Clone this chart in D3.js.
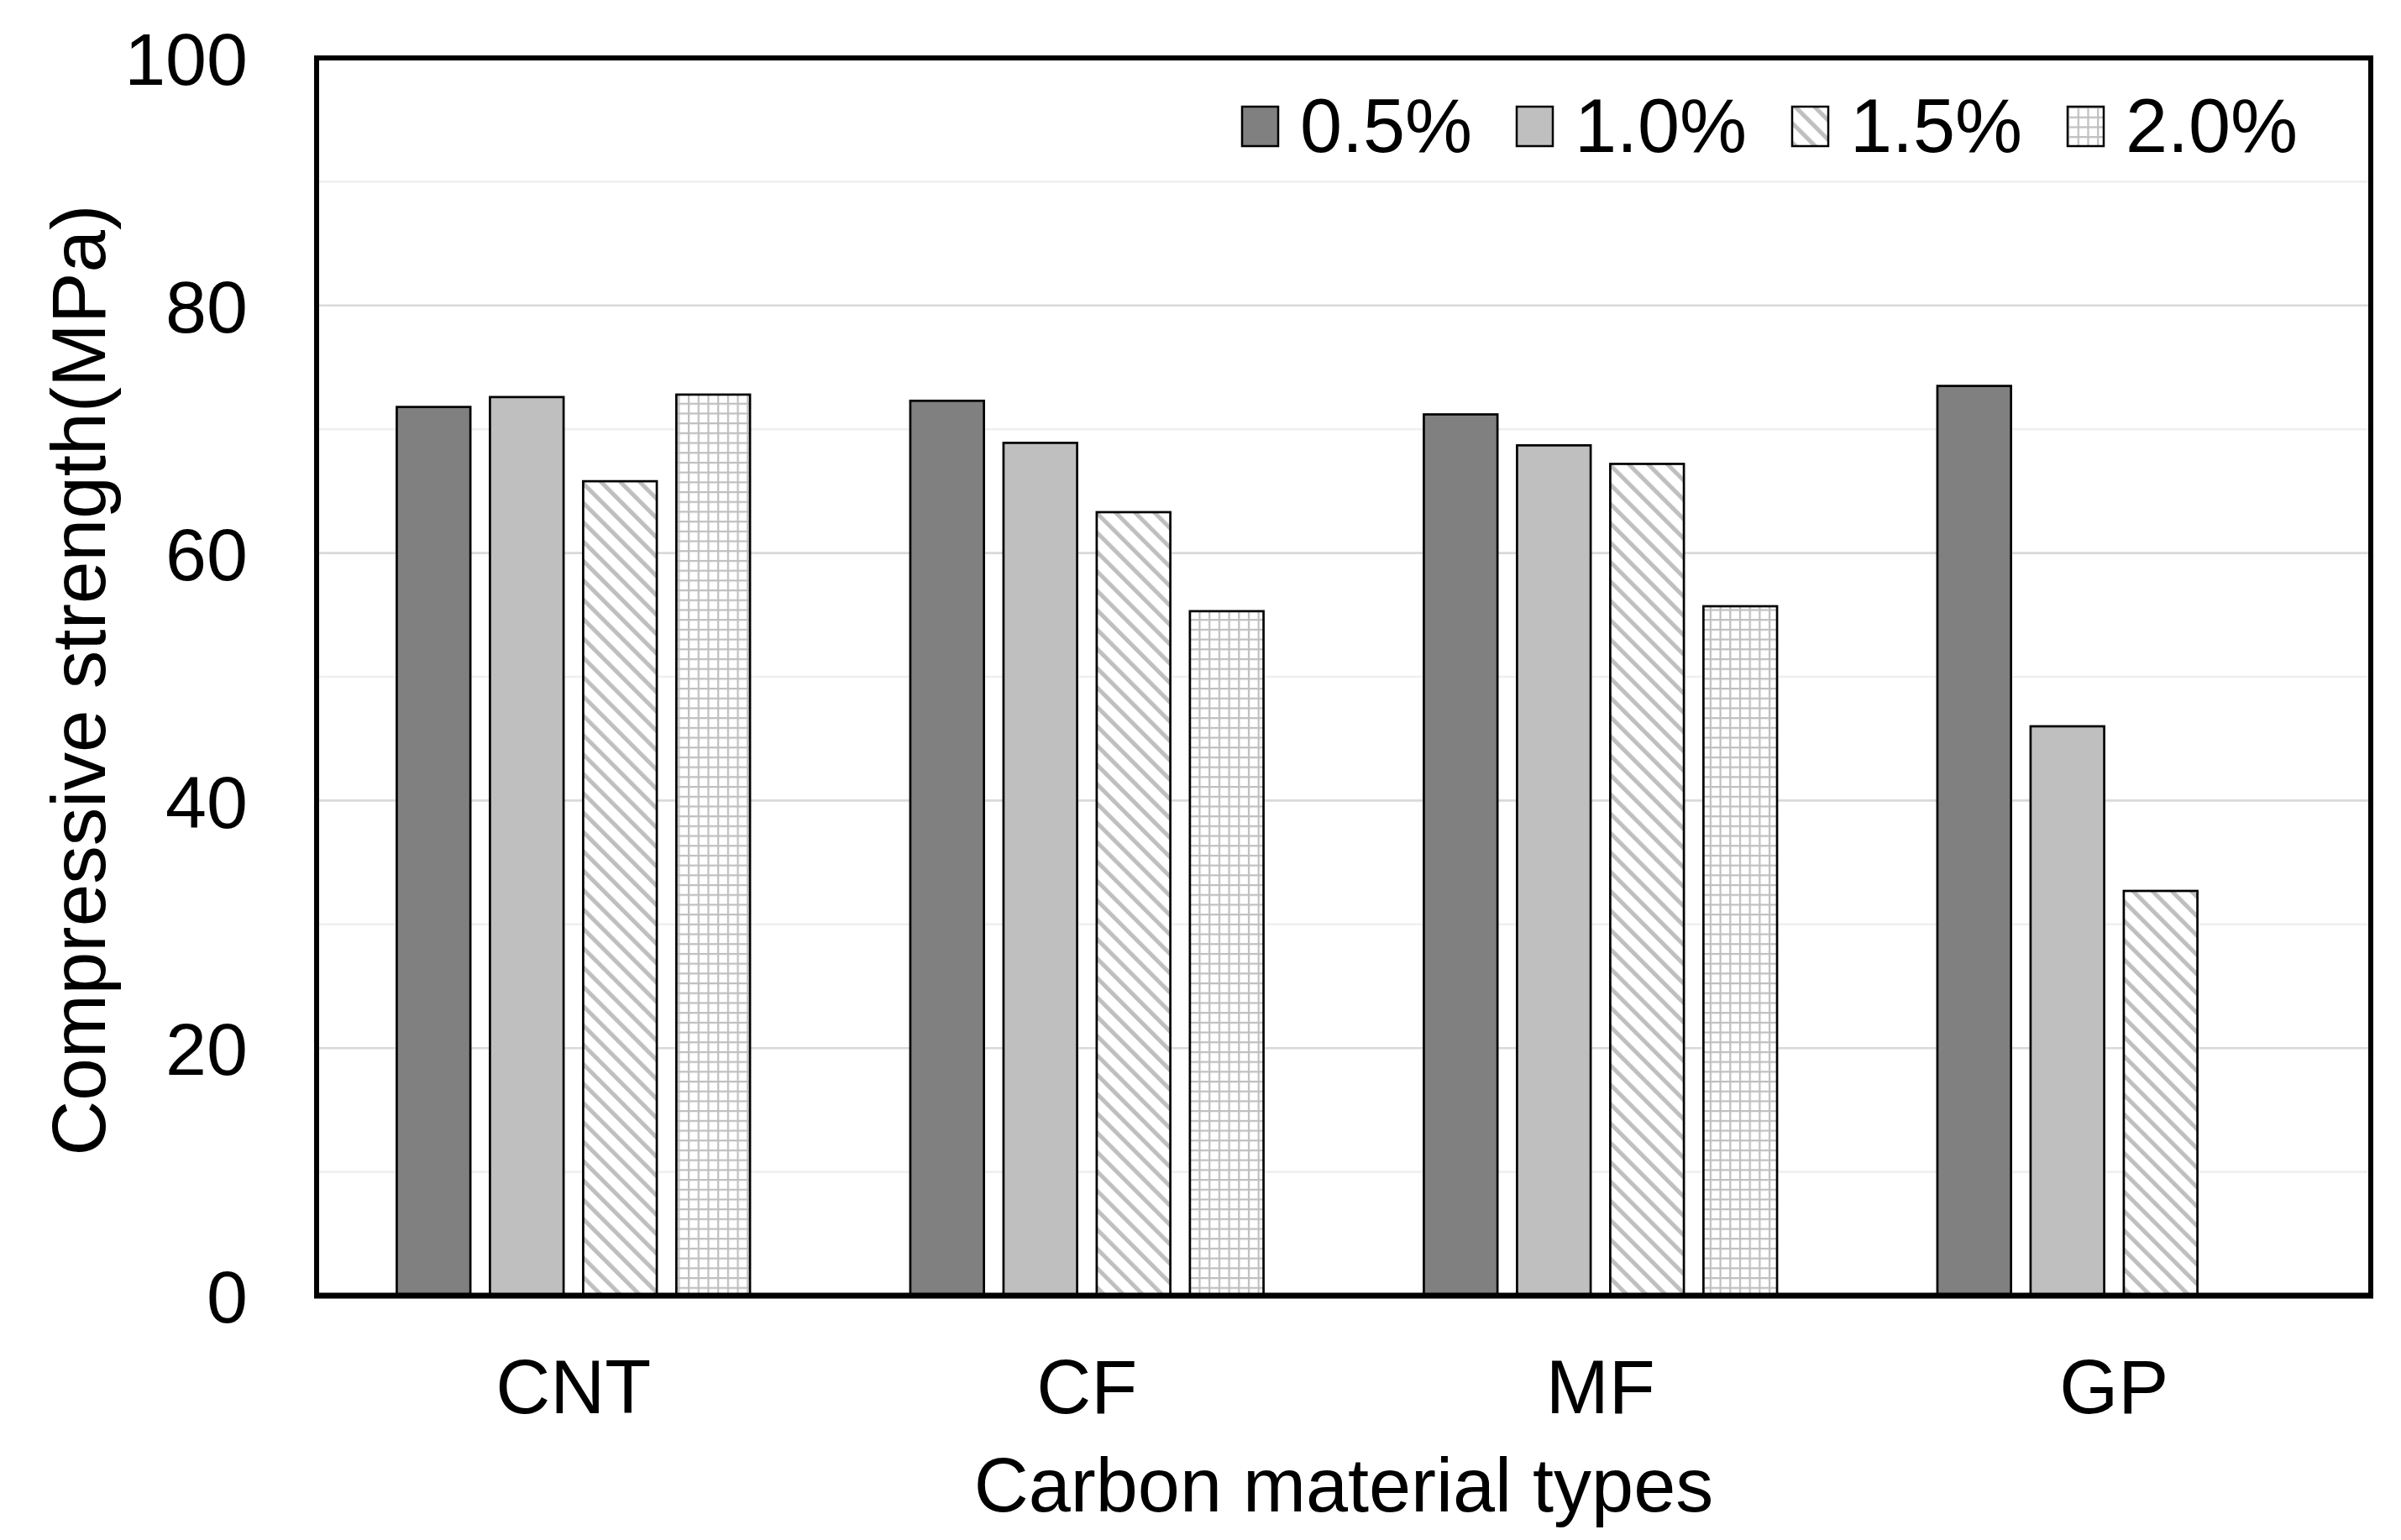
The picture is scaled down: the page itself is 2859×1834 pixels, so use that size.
<!DOCTYPE html>
<html>
<head>
<meta charset="utf-8">
<script src="https://cdn.jsdelivr.net/npm/d3@7"></script>
<style>
  html, body { margin: 0; padding: 0; background: #fff; }
  svg { display: block; }
  text { font-family: "Liberation Sans", Arial, sans-serif; fill: #000; }
</style>
</head>
<body>
<svg id="chart" width="2859" height="1834"></svg>
<script>
const categories = ["CNT", "CF", "MF", "GP"];
const series = ["0.5%", "1.0%", "1.5%", "2.0%"];
const s05 = [71.8, 72.3, 71.2, 73.5];
const s10 = [72.6, 68.9, 68.7, 46.0];
const s15 = [65.8, 63.3, 67.2, 32.7];
const s20 = [72.8, 55.3, 55.7, null];
const seriesValues = [s05, s10, s15, s20];
const yTicks = [0, 20, 40, 60, 80, 100];
const gridValues = [10, 20, 30, 40, 50, 60, 70, 80, 90];
const xTitle = "Carbon material types";
const yTitle = "Compressive strength(MPa)";

const W = 2859, H = 1834;
const margin = { left: 377, right: W - 2823, top: 69, bottom: H - 1543 };
const svg = d3.select("#chart");

// patterns
const defs = svg.append("defs");
const hatch = defs.append("pattern")
  .attr("id", "hatch").attr("patternUnits", "userSpaceOnUse")
  .attr("width", 16.3).attr("height", 16.3)
  .attr("patternTransform", "rotate(-45)");
hatch.append("rect").attr("width", 16.3).attr("height", 16.3).attr("fill", "#fff");
hatch.append("rect").attr("x", 0).attr("y", 0).attr("width", 5).attr("height", 16.3).attr("fill", "#bfbfbf");

const grid = defs.append("pattern")
  .attr("id", "gridp").attr("patternUnits", "userSpaceOnUse")
  .attr("width", 11.7).attr("height", 11.7);
grid.append("rect").attr("width", 11.7).attr("height", 11.7).attr("fill", "#fff");
grid.append("rect").attr("x", 0).attr("y", 0).attr("width", 2.2).attr("height", 11.7).attr("fill", "#bfbfbf");
grid.append("rect").attr("x", 0).attr("y", 0).attr("width", 11.7).attr("height", 2.2).attr("fill", "#bfbfbf");

const fills = ["#808080", "#bfbfbf", "url(#hatch)", "url(#gridp)"];

const x0 = d3.scaleBand().domain(categories)
  .range([margin.left, W - margin.right]).paddingInner(0).paddingOuter(0);
const x1 = d3.scaleBand().domain(series)
  .range([0, x0.bandwidth()]).paddingInner(0.21).paddingOuter(0.86);
const y = d3.scaleLinear().domain([0, 100]).range([H - margin.bottom, margin.top]);

// gridlines
svg.append("g").selectAll("line").data(gridValues).join("line")
  .attr("x1", margin.left).attr("x2", W - margin.right)
  .attr("y1", d => y(d)).attr("y2", d => y(d))
  .attr("stroke", d => d % 20 === 0 ? "#d9d9d9" : "#efefef")
  .attr("stroke-width", 2.6);

// bars
const flat = [];
categories.forEach((c, i) => {
  series.forEach((s, j) => {
    const v = seriesValues[j][i];
    if (v != null) flat.push({ c, s, j, v });
  });
});
svg.append("g").selectAll("rect").data(flat).join("rect")
  .attr("x", d => x0(d.c) + x1(d.s))
  .attr("width", x1.bandwidth())
  .attr("y", d => y(d.v))
  .attr("height", d => y(0) - y(d.v))
  .attr("fill", d => fills[d.j])
  .attr("stroke", "#000").attr("stroke-width", 2.7);

// frame
svg.append("rect")
  .attr("x", margin.left).attr("y", margin.top)
  .attr("width", W - margin.left - margin.right)
  .attr("height", H - margin.top - margin.bottom)
  .attr("fill", "none").attr("stroke", "#000").attr("stroke-width", 6);
svg.append("line")
  .attr("x1", margin.left - 3).attr("x2", W - margin.right + 3)
  .attr("y1", y(0)).attr("y2", y(0))
  .attr("stroke", "#000").attr("stroke-width", 7);

// y axis labels
const yAxis = d3.axisLeft(y).tickValues(yTicks).tickSize(0).tickPadding(82).tickFormat(d3.format("d"));
const yg = svg.append("g").attr("transform", `translate(${margin.left},0)`).call(yAxis);
yg.select(".domain").remove();
yg.selectAll("text").attr("font-size", 88).attr("font-family", "'Liberation Sans', Arial, sans-serif")
  .attr("fill", "#000").attr("dy", "0.36em");

// x axis labels
const xAxis = d3.axisBottom(x0).tickSize(0).tickPadding(0);
const xg = svg.append("g").attr("transform", `translate(0,${y(0)})`).call(xAxis);
xg.select(".domain").remove();
xg.selectAll("text").attr("font-size", 90).attr("font-family", "'Liberation Sans', Arial, sans-serif")
  .attr("fill", "#000").attr("y", 140).attr("dy", 0);

// titles
svg.append("text").attr("x", (margin.left + W - margin.right) / 2).attr("y", 1800)
  .attr("text-anchor", "middle").attr("font-size", 90).text(xTitle);
svg.append("text").attr("transform", "translate(125,810) rotate(-90)")
  .attr("text-anchor", "middle").attr("font-size", 91).text(yTitle);

// legend
const legendX = [1479, 1806, 2134, 2462];
const lg = svg.append("g").selectAll("g").data(series).join("g")
  .attr("transform", (d, i) => `translate(${legendX[i]},127)`);
lg.append("rect").attr("width", 43).attr("height", 47)
  .attr("fill", (d, i) => fills[i]).attr("stroke", "#000").attr("stroke-width", 2.5);
lg.append("text").attr("x", 69).attr("y", 54).attr("font-size", 90).text(d => d);
</script>
</body>
</html>
